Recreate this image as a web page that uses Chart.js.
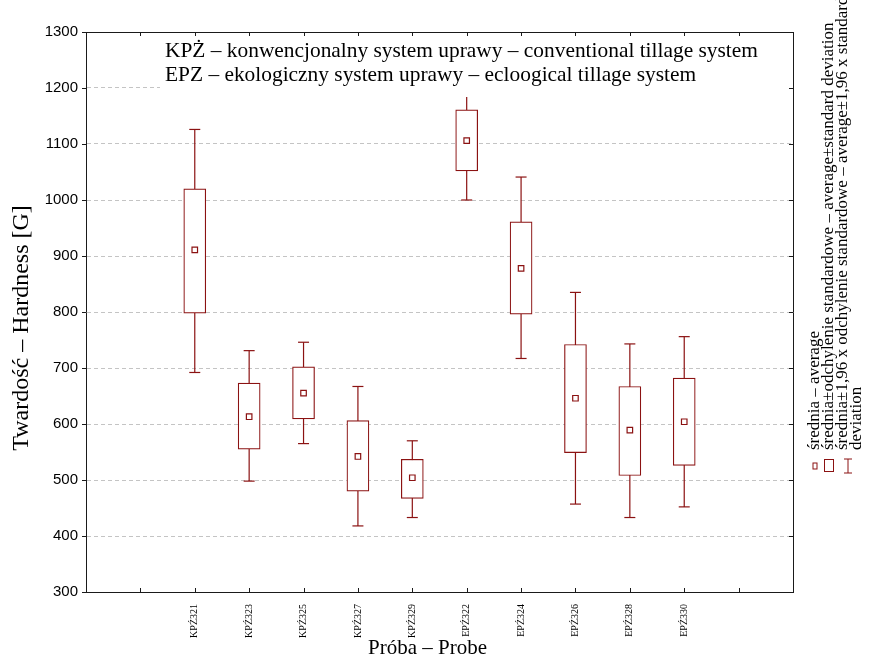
<!DOCTYPE html>
<html><head><meta charset="utf-8">
<script src="https://cdn.jsdelivr.net/npm/chart.js@4"></script>
<style>html,body{margin:0;padding:0;background:#fff}</style>
</head><body>
<canvas id="c" width="880" height="660"></canvas>
<script>
// ---- data ----
const categories = ['KPŹ321','KPŹ323','KPŹ325','KPŹ327','KPŹ329','EPŹ322','EPŹ324','EPŹ326','EPŹ328','EPŹ330'];
const means       = [911, 613, 655, 542, 504, 1106, 878, 646, 589, 604];
const boxLow      = [798, 555, 609, 480, 467, 1052, 796, 549, 508, 526];
const boxHigh     = [1020, 673, 702, 606, 537, 1161, 961, 742, 667, 682];
const whiskerLow  = [692, 498, 565, 418, 433, 1000, 717, 457, 433, 452];
const whiskerHigh = [1126, 731, 746, 667, 570, 1212, 1041, 835, 743, 756];
const yMin = 300, yMax = 1300, yStep = 100;
const annotationLines = [
  'KPŻ – konwencjonalny system uprawy – conventional tillage system',
  'EPZ – ekologiczny system uprawy – ecloogical tillage system'
];
const legendLines = [
  'średnia – average',
  'średnia±odchylenie standardowe – average±standard deviation',
  'średnia±1,96 x odchylenie standardowe – average±1,96 x standard',
  'deviation'
];
const xTitle = 'Próba – Probe';
const yTitle = 'Twardość – Hardness [G]';

// ---- layout / style ----
const SLOT_OFFSET = 2, SLOT_COUNT = 13;
const RED = '#8b1212';
const AXIS = '#1a1a1a';
const SERIF = '"Liberation Serif", "Times New Roman", serif';
const SANS = '"Liberation Sans", Arial, sans-serif';
const xOf = i => i + SLOT_OFFSET;

const whiskerData = [];
categories.forEach((c, i) => {
  whiskerData.push({x: xOf(i), y: whiskerLow[i]}, {x: xOf(i), y: whiskerHigh[i]}, {x: xOf(i), y: null});
});
const capData = [];
categories.forEach((c, i) => { capData.push({x: xOf(i), y: whiskerLow[i]}, {x: xOf(i), y: whiskerHigh[i]}); });
const boxData = categories.map((c, i) => ({x: xOf(i), y: [boxLow[i], boxHigh[i]]}));
const meanData = categories.map((c, i) => ({x: xOf(i), y: means[i]}));

const slotTicks = s => { s.ticks = Array.from({length: SLOT_COUNT + 1}, (_, k) => ({value: k})); };
const valueTicks = s => { const t = []; for (let v = yMin; v <= yMax; v += yStep) t.push({value: v}); s.ticks = t; };

const overlayPlugin = {
  id: 'overlay',
  afterDatasetsDraw(chart) {
    const {ctx, chartArea: a, scales} = chart;
    ctx.save();
    // annotation box (white background hides grid and the clipped whisker)
    ctx.fillStyle = '#fff';
    ctx.fillRect(a.left + 74, a.top + 1, a.right - a.left - 75, 64);
    // tick marks: left outward, other sides inward
    ctx.strokeStyle = AXIS;
    ctx.lineWidth = 1;
    ctx.beginPath();
    for (let k = 1; k < SLOT_COUNT; k++) {
      const px = Math.round(scales.x.getPixelForValue(k)) + 0.5;
      ctx.moveTo(px, a.bottom); ctx.lineTo(px, a.bottom - 4);
      ctx.moveTo(px, a.top); ctx.lineTo(px, a.top + 4);
    }
    for (let v = yMin; v <= yMax; v += yStep) {
      const py = Math.round(scales.y.getPixelForValue(v)) + 0.5;
      ctx.moveTo(a.left - 4, py); ctx.lineTo(a.left, py);
      ctx.moveTo(a.right - 4, py); ctx.lineTo(a.right, py);
    }
    ctx.stroke();
    ctx.fillStyle = '#000';
    ctx.font = '21.4px ' + SERIF;
    ctx.textBaseline = 'alphabetic';
    ctx.textAlign = 'left';
    annotationLines.forEach((t, k) => ctx.fillText(t, a.left + 79, a.top + 25 + k * 23.5));
    ctx.restore();
  },
  afterDraw(chart) {
    const {ctx, chartArea: a} = chart;
    ctx.save();
    // axis titles
    ctx.fillStyle = '#000';
    ctx.textAlign = 'center';
    ctx.textBaseline = 'middle';
    ctx.font = '21px ' + SERIF;
    ctx.fillText(xTitle, (a.left + a.right) / 2 - 12, 648);
    ctx.save();
    ctx.translate(22, (a.top + a.bottom) / 2 + 16);
    ctx.rotate(-Math.PI / 2);
    ctx.font = '24px ' + SERIF;
    ctx.fillText(yTitle, 0, 0);
    ctx.restore();
    // legend
    const cols = [a.right + 22, a.right + 36, a.right + 50, a.right + 64];
    const yText = 450;
    ctx.font = '17px ' + SERIF;
    ctx.textBaseline = 'middle';
    ctx.textAlign = 'left';
    legendLines.forEach((t, k) => {
      ctx.save();
      ctx.translate(cols[k], yText);
      ctx.rotate(-Math.PI / 2);
      ctx.fillText(t, 0, 0);
      ctx.restore();
    });
    ctx.strokeStyle = RED;
    ctx.lineWidth = 1;
    const ys = 466;
    ctx.fillStyle = '#fff';
    ctx.fillRect(cols[0] - 2, ys - 3, 4, 6);
    ctx.strokeRect(cols[0] - 2, ys - 3, 4, 6);
    ctx.strokeRect(cols[1] - 4.5, ys - 6.5, 9, 12);
    const wx = (cols[2] + cols[3]) / 2 - 2;
    ctx.beginPath();
    ctx.moveTo(wx, ys - 7); ctx.lineTo(wx, ys + 7);
    ctx.moveTo(wx - 4, ys - 7); ctx.lineTo(wx + 4, ys - 7);
    ctx.moveTo(wx - 4, ys + 7); ctx.lineTo(wx + 4, ys + 7);
    ctx.stroke();
    ctx.restore();
  }
};

new Chart(document.getElementById('c'), {
  type: 'scatter',
  data: {
    datasets: [
      { label: 'mean', data: meanData, order: 0, pointStyle: 'rect', pointRadius: 3.9,
        backgroundColor: '#fff', borderColor: RED, borderWidth: 1.2 },
      { type: 'bar', label: 'box', data: boxData, order: 1, barThickness: 22, grouped: false,
        backgroundColor: '#fff', borderColor: RED, borderWidth: 1.2, borderSkipped: false },
      { label: 'caps', data: capData, order: 2, pointStyle: 'line', pointRadius: 5.5,
        borderColor: RED, borderWidth: 1.2 },
      { type: 'line', label: 'whisker', data: whiskerData, order: 3, showLine: true, spanGaps: false,
        pointRadius: 0, borderColor: RED, borderWidth: 1.2, fill: false }
    ]
  },
  options: {
    responsive: false,
    devicePixelRatio: 1,
    animation: false,
    events: [],
    layout: { padding: 0 },
    plugins: { legend: { display: false }, tooltip: { enabled: false } },
    scales: {
      x: {
        type: 'linear', position: 'bottom', min: 0, max: SLOT_COUNT, offset: false,
        afterBuildTicks: slotTicks,
        afterFit: s => { s.height = 68; },
        ticks: {
          autoSkip: false, minRotation: 90, maxRotation: 90, padding: 12,
          font: { family: SERIF, size: 10 }, color: '#000',
          callback: v => { const i = v - SLOT_OFFSET; return (i >= 0 && i < categories.length) ? categories[i] : ''; }
        },
        grid: { drawOnChartArea: false, drawTicks: false },
        border: { color: AXIS, width: 1 }
      },
      x2: {
        type: 'linear', position: 'top', min: 0, max: SLOT_COUNT, offset: false,
        afterBuildTicks: slotTicks,
        afterFit: s => { s.height = 32; },
        ticks: { display: false },
        grid: { drawOnChartArea: false, drawTicks: false },
        border: { color: AXIS, width: 1 }
      },
      y: {
        type: 'linear', position: 'left', min: yMin, max: yMax,
        afterBuildTicks: valueTicks,
        afterFit: s => { s.width = 86; },
        ticks: { padding: 8, font: { family: SANS, size: 15 }, color: '#000', callback: v => String(v) },
        grid: {
          color: c => (c.tick && (c.tick.value === yMin || c.tick.value === yMax)) ? 'rgba(0,0,0,0)' : '#c4c4c4',
          drawTicks: false
        },
        border: { color: AXIS, width: 1, dash: [4, 3] }
      },
      y2: {
        type: 'linear', position: 'right', min: yMin, max: yMax,
        afterBuildTicks: valueTicks,
        afterFit: s => { s.width = 87; },
        ticks: { display: false },
        grid: { drawOnChartArea: false, drawTicks: false },
        border: { color: AXIS, width: 1 }
      }
    }
  },
  plugins: [overlayPlugin]
});
</script>
</body></html>
